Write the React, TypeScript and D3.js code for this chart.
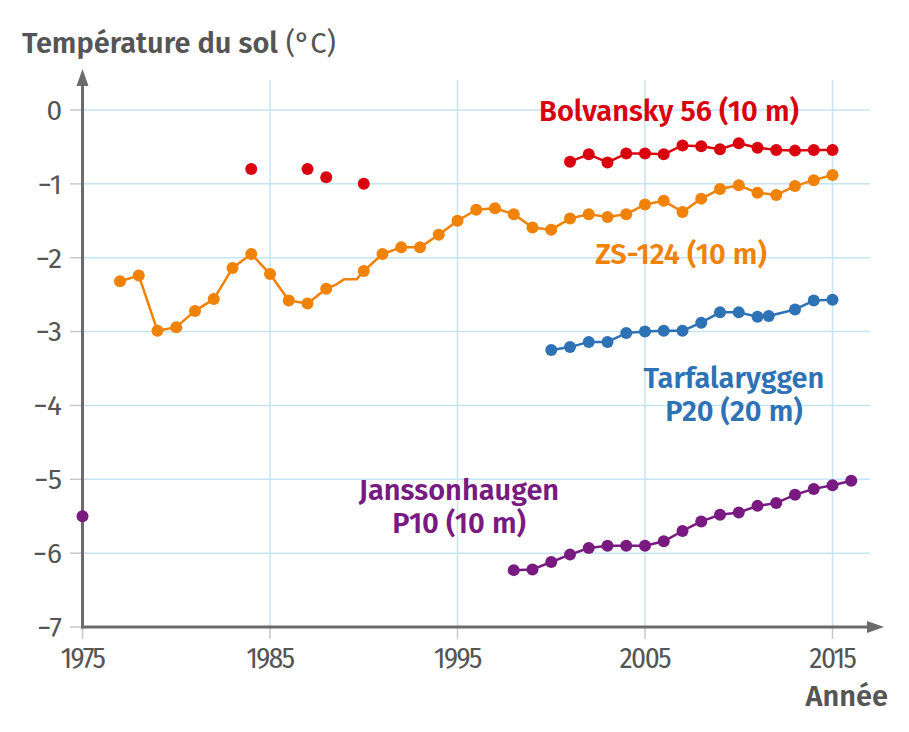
import React from "react";
import * as d3 from "d3";

const W = 909;
const H = 732;

type P = [number, number];

const zsYears = [1977, 1978, 1979, 1980, 1981, 1982, 1983, 1984, 1985, 1986, 1987, 1988, 1990, 1991, 1992, 1993, 1994, 1995, 1996, 1997, 1998, 1999, 2000, 2001, 2002, 2003, 2004, 2005, 2006, 2007, 2008, 2009, 2010, 2011, 2012, 2013, 2014, 2015];
const zsValues = [-2.32, -2.24, -2.99, -2.94, -2.72, -2.56, -2.14, -1.95, -2.22, -2.58, -2.62, -2.42, -2.18, -1.95, -1.86, -1.86, -1.69, -1.5, -1.35, -1.33, -1.41, -1.59, -1.62, -1.47, -1.41, -1.45, -1.41, -1.28, -1.23, -1.38, -1.2, -1.07, -1.02, -1.12, -1.15, -1.03, -0.95, -0.88];
// unmarked line points (gap filled in the original line)
const zsLineOnlyYears = [1988.55, 1988.97, 1989.63];
const zsLineOnlyValues = [-2.36, -2.29, -2.29];

const bolYears = [2001, 2002, 2003, 2004, 2005, 2006, 2007, 2008, 2009, 2010, 2011, 2012, 2013, 2014, 2015];
const bolValues = [-0.7, -0.6, -0.71, -0.59, -0.59, -0.6, -0.48, -0.49, -0.53, -0.45, -0.51, -0.54, -0.55, -0.54, -0.54];
const bolIsoYears = [1984, 1987, 1988, 1990];
const bolIsoValues = [-0.8, -0.8, -0.91, -1.0];

const tarYears = [2000, 2001, 2002, 2003, 2004, 2005, 2006, 2007, 2008, 2009, 2010, 2011, 2011.6, 2013, 2014, 2015];
const tarValues = [-3.25, -3.21, -3.14, -3.14, -3.02, -3.0, -2.99, -2.99, -2.88, -2.74, -2.74, -2.8, -2.79, -2.7, -2.58, -2.57];

const janYears = [1998, 1999, 2000, 2001, 2002, 2003, 2004, 2005, 2006, 2007, 2008, 2009, 2010, 2011, 2012, 2013, 2014, 2015, 2016];
const janValues = [-6.23, -6.22, -6.12, -6.02, -5.93, -5.9, -5.9, -5.9, -5.84, -5.7, -5.57, -5.48, -5.45, -5.36, -5.32, -5.21, -5.13, -5.08, -5.02];
const janIsoYears = [1975];
const janIsoValues = [-5.5];

const xTicks = [1975, 1985, 1995, 2005, 2015];
const yTicks = [0, -1, -2, -3, -4, -5, -6, -7];

const RED = "#d9000f";
const ORANGE = "#ef8207";
const BLUE = "#2e72b5";
const PURPLE = "#781a80";
const AXIS = "#6b6b6b";
const TEXT = "#555555";
const GRID = "#c6e4f4";
const FONT = "'Fira Sans', 'Open Sans', 'Noto Sans', sans-serif";
const FONT_COND = "'Fira Sans Condensed', 'Fira Sans', 'Open Sans', sans-serif";

const zip = (xs: number[], ys: number[]): P[] => xs.map((x, i) => [x, ys[i]]);

export default function App() {
  const x = d3.scaleLinear().domain([1975, 2015]).range([82.5, 832.5]);
  const y = d3.scaleLinear().domain([0, -7]).range([110, 627]);
  const line = d3
    .line<P>()
    .x((d) => x(d[0]))
    .y((d) => y(d[1]));

  const zsLine = [...zip(zsYears, zsValues), ...zip(zsLineOnlyYears, zsLineOnlyValues)].sort((a, b) => a[0] - b[0]);

  const series = [
    { pts: zip(janYears, janValues), line: true, color: PURPLE },
    { pts: zip(janIsoYears, janIsoValues), line: false, color: PURPLE },
    { pts: zip(tarYears, tarValues), line: true, color: BLUE },
    { pts: zip(zsYears, zsValues), lineData: zsLine, line: true, color: ORANGE },
    { pts: zip(bolYears, bolValues), line: true, color: RED },
    { pts: zip(bolIsoYears, bolIsoValues), line: false, color: RED },
  ];

  const x0 = x(1975);
  const yBottom = y(-7);
  const xRight = 870;
  const FS = 29;
  const BW = 600;

  return (
    <svg width={W} height={H} style={{ display: "block", position: "absolute", left: 0, top: 0 }} fontFamily={FONT}>
      <rect width={W} height={H} fill="#ffffff" />
      {/* grid */}
      {yTicks.slice(0, -1).map((t) => (
        <line key={"gy" + t} x1={x0} x2={xRight} y1={y(t)} y2={y(t)} stroke={GRID} strokeWidth={1.5} />
      ))}
      {xTicks.slice(1).map((t) => (
        <line key={"gx" + t} x1={x(t)} x2={x(t)} y1={80} y2={yBottom} stroke={GRID} strokeWidth={1.5} />
      ))}
      {/* tick marks */}
      {yTicks.map((t) => (
        <line key={"ty" + t} x1={70} x2={x0} y1={y(t)} y2={y(t)} stroke="#c8c8c8" strokeWidth={1.5} />
      ))}
      {xTicks.map((t) => (
        <line key={"tx" + t} x1={x(t)} x2={x(t)} y1={yBottom} y2={yBottom + 12} stroke="#c8c8c8" strokeWidth={1.5} />
      ))}
      {/* axes */}
      <line x1={x0} x2={x0} y1={yBottom + 1.5} y2={82} stroke={AXIS} strokeWidth={3} />
      <path d={`M${x0},69 L${x0 - 6},86 L${x0 + 6},86 Z`} fill={AXIS} />
      <line x1={x0 - 1.5} x2={870} y1={yBottom} y2={yBottom} stroke={AXIS} strokeWidth={3} />
      <path d={`M${884},${yBottom} L${867},${yBottom - 6} L${867},${yBottom + 6} Z`} fill={AXIS} />

      {/* tick labels */}
      {yTicks.map((t) => (
        <text key={"ly" + t} x={62} y={y(t)} dy="0.35em" textAnchor="end" fontSize={28} fill={TEXT}>
          {t === 0 ? "0" : "\u2212" + Math.abs(t)}
        </text>
      ))}
      {xTicks.map((t) => (
        <text key={"lx" + t} x={x(t)} y={668} textAnchor="middle" fontSize={29} fill={TEXT} fontFamily={FONT_COND} fontStretch="condensed" letterSpacing={-1.5}>
          {t}
        </text>
      ))}
      <text x={888} y={706} textAnchor="end" fontSize={FS} fontWeight={BW} fill={TEXT}>
        Année
      </text>
      <text x={22} y={53} fontSize={FS} fill={TEXT}>
        <tspan fontWeight={BW}>Température du sol</tspan>
        <tspan> (°C)</tspan>
      </text>

      {/* series */}
      {series.map((s, i) => (
        <g key={"s" + i}>
          {s.line && (
            <path d={line((s as any).lineData ?? s.pts) ?? ""} fill="none" stroke={s.color} strokeWidth={2.5} strokeLinejoin="round" />
          )}
          {s.pts.map((p, j) => (
            <circle key={j} cx={x(p[0])} cy={y(p[1])} r={6} fill={s.color} />
          ))}
        </g>
      ))}

      {/* labels */}
      <text x={669} y={121} textAnchor="middle" fontSize={FS} fontWeight={BW} fill={RED}>
        Bolvansky 56 (10 m)
      </text>
      <text x={681} y={264} textAnchor="middle" fontSize={FS} fontWeight={BW} fill={ORANGE}>
        ZS-124 (10 m)
      </text>
      <text x={734} y={388} textAnchor="middle" fontSize={FS} fontWeight={BW} fill={BLUE}>
        Tarfalaryggen
      </text>
      <text x={734} y={421} textAnchor="middle" fontSize={FS} fontWeight={BW} fill={BLUE}>
        P20 (20 m)
      </text>
      <text x={459} y={500} textAnchor="middle" fontSize={FS} fontWeight={BW} fill={PURPLE}>
        Janssonhaugen
      </text>
      <text x={459} y={533} textAnchor="middle" fontSize={FS} fontWeight={BW} fill={PURPLE}>
        P10 (10 m)
      </text>
    </svg>
  );
}
